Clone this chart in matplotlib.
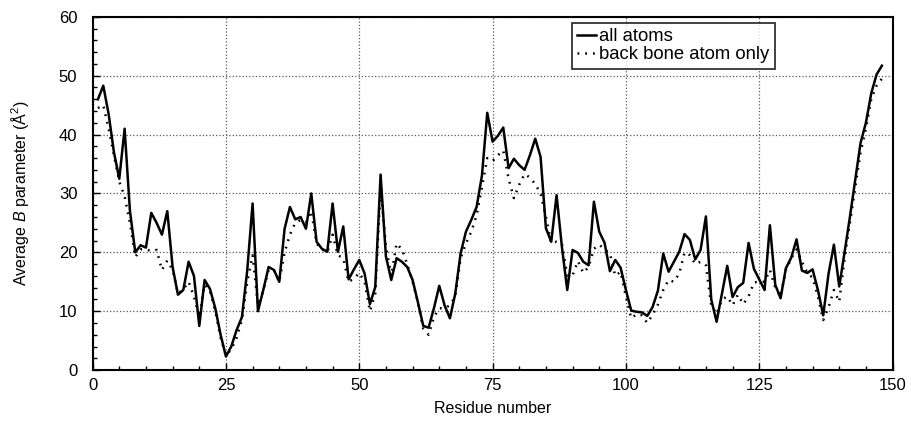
import matplotlib
matplotlib.use("Agg")
import matplotlib.pyplot as plt
from matplotlib.ticker import MultipleLocator

plt.rcParams['font.family'] = ['Liberation Sans', 'DejaVu Sans']
plt.rcParams['mathtext.fontset'] = 'custom'
plt.rcParams['mathtext.rm'] = 'Liberation Sans'
plt.rcParams['mathtext.it'] = 'Liberation Sans:italic'

# residue numbers 1..148
residues = list(range(1, 149))

# average B factor, all atoms
all_atoms = [
    46.0, 48.3, 43.5, 37.0, 32.5, 41.0, 27.0, 20.0, 21.2, 20.8,
    26.7, 25.0, 23.0, 27.0, 17.5, 12.8, 13.6, 18.4, 16.0, 7.5,
    15.3, 13.8, 10.5, 6.0, 2.3, 4.0, 6.8, 9.0, 17.0, 28.3,
    10.0, 13.6, 17.5, 17.0, 15.0, 24.0, 27.7, 25.6, 26.0, 24.0,
    30.0, 21.8, 20.6, 20.1, 28.3, 20.1, 24.4, 15.4, 17.1, 18.7,
    16.4, 11.2, 14.1, 33.2, 19.3, 15.3, 19.0, 18.4, 17.5, 15.3,
    11.5, 7.5, 7.2, 10.5, 14.3, 11.0, 8.8, 13.0, 19.8, 23.5,
    25.5, 27.7, 33.0, 43.7, 38.8, 39.8, 41.2, 34.3, 35.9, 34.8,
    34.0, 36.5, 39.3, 36.2, 24.1, 21.8, 29.7, 20.9, 13.6, 20.4,
    19.9, 18.4, 17.8, 28.6, 23.5, 21.6, 16.8, 18.7, 17.4, 13.6,
    10.1, 9.9, 9.8, 9.2, 10.7, 13.5, 19.8, 16.7, 18.4, 20.1,
    23.1, 22.1, 18.8, 20.4, 26.1, 12.0, 8.2, 13.0, 17.7, 12.4,
    14.1, 14.8, 21.6, 17.2, 15.4, 13.6, 24.6, 14.5, 12.2, 17.3,
    19.1, 22.2, 16.9, 16.5, 17.1, 13.6, 9.3, 16.4, 21.3, 14.2,
    20.0, 26.0, 32.3, 38.6, 42.0, 47.0, 50.2, 51.7,
]

# average B factor, backbone atoms only
backbone = [
    44.5, 45.0, 41.0, 36.5, 32.0, 29.5, 25.0, 19.2, 20.5, 20.5,
    20.2, 20.4, 17.0, 18.6, 17.0, 13.0, 13.7, 15.0, 12.5, 9.0,
    14.5, 13.5, 10.0, 5.5, 2.5, 3.5, 5.5, 8.5, 15.0, 19.5,
    11.0, 13.5, 17.0, 17.0, 15.0, 20.0, 23.0, 25.0, 25.5, 25.1,
    27.0, 21.5, 20.5, 20.0, 23.0, 19.5, 19.0, 15.0, 15.5, 16.5,
    15.0, 10.0, 13.0, 31.0, 21.0, 16.0, 21.5, 20.5, 18.0, 15.0,
    11.5, 7.0, 6.0, 9.0, 10.5, 10.5, 11.0, 12.5, 19.0, 21.5,
    23.5, 26.3, 31.0, 36.0, 35.5, 36.5, 37.3, 32.5, 29.2, 31.5,
    33.3, 32.7, 31.6, 30.0, 26.0, 21.5, 21.8, 21.5, 16.0, 16.1,
    18.5, 16.5, 17.5, 20.6, 21.3, 20.5, 19.8, 16.0, 16.7, 12.5,
    8.8, 9.5, 9.3, 8.0, 9.4, 11.1, 13.6, 15.3, 15.0, 16.4,
    20.0, 19.5, 18.0, 18.4, 17.8, 11.0, 9.5, 12.0, 12.5, 11.0,
    12.8, 11.2, 12.5, 14.9, 15.0, 15.0, 17.0, 14.0, 12.5, 17.0,
    19.0, 20.5, 18.4, 16.5, 15.7, 12.5, 8.5, 10.7, 13.6, 11.6,
    19.0, 25.0, 31.0, 37.0, 41.0, 46.0, 48.3, 49.5,
]

fig = plt.figure(figsize=(9.08, 4.21), dpi=100)
ax = fig.add_axes([0.102, 0.121, 0.881, 0.839])

ax.plot(residues, all_atoms, color='black', lw=1.8, label='all atoms')
ax.plot(residues, backbone, color='black', lw=1.8, linestyle=(0, (0.7, 2.4)),
        label='back bone atom only')

ax.set_xlim(0, 150)
ax.set_ylim(0, 60)
ax.xaxis.set_major_locator(MultipleLocator(25))
ax.xaxis.set_minor_locator(MultipleLocator(5))
ax.yaxis.set_major_locator(MultipleLocator(10))
ax.yaxis.set_minor_locator(MultipleLocator(2))
ax.tick_params(which='both', direction='in', top=False, right=False,
               labelsize=12)
ax.tick_params(axis='x', which='major', pad=6)
ax.tick_params(axis='y', which='major', pad=11)
ax.tick_params(which='major', length=5, width=1)
ax.tick_params(which='minor', length=3, width=1)
ax.grid(True, which='major', linestyle=':', color='0.35', lw=0.9)
for s in ax.spines.values():
    s.set_linewidth(1.5)

ax.set_xlabel('Residue number', fontsize=11.5)
ax.set_ylabel('Average $\\it{B}$ parameter (Å$^2$)', fontsize=11.5)
ax.xaxis.set_label_coords(0.5, -0.088)
ax.yaxis.set_label_coords(-0.077, 0.5)

leg = ax.legend(loc='upper left', bbox_to_anchor=(0.599, 0.983), fontsize=13.3,
                frameon=True, fancybox=False, edgecolor='black',
                handlelength=1.0, handletextpad=0.2, borderpad=0.3,
                labelspacing=0.05, borderaxespad=0)
leg.get_frame().set_linewidth(1.3)

plt.savefig('out.png', dpi=100)
